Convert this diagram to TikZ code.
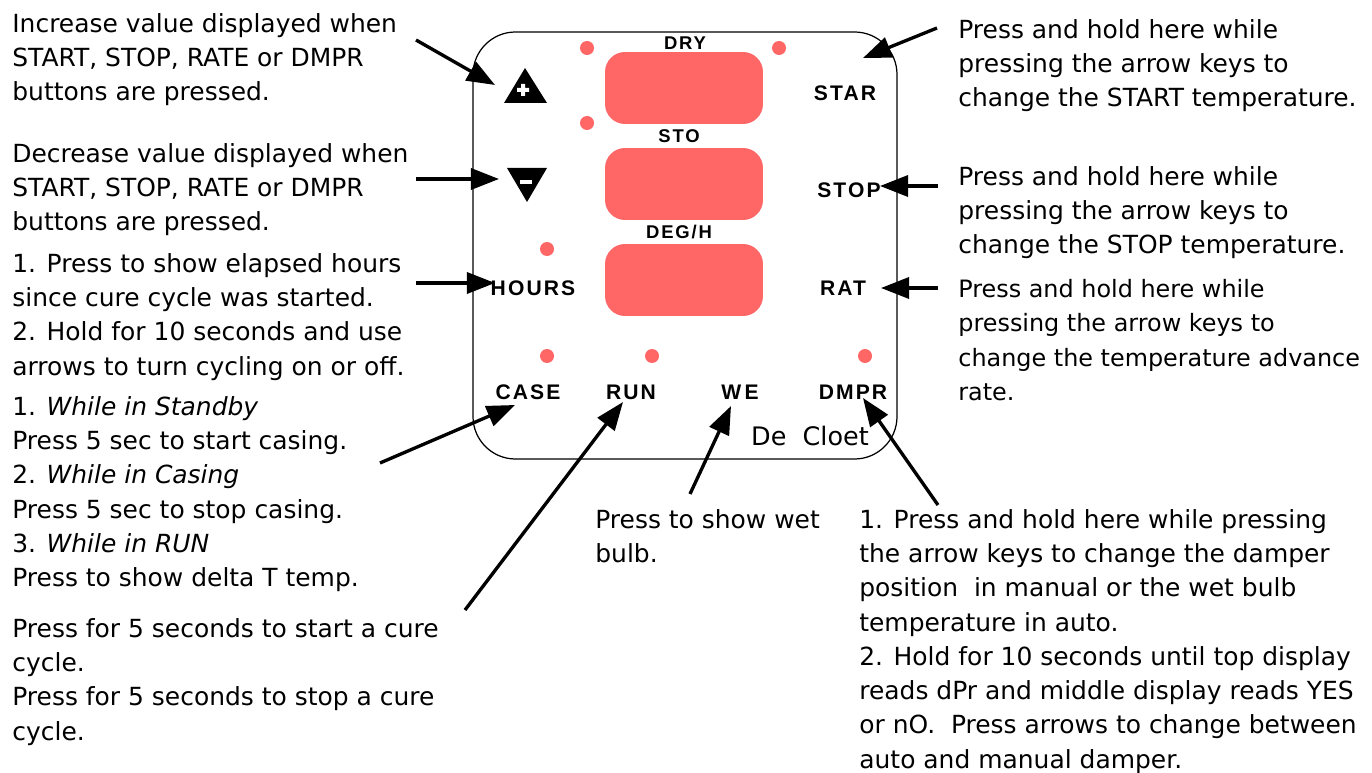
\documentclass[tikz,border=0pt]{standalone}
\usepackage{fontspec}
\setmainfont{DejaVu Sans}
\newfontfamily\keyfont[LetterSpace=10]{Liberation Sans}
\usetikzlibrary{arrows.meta}
\definecolor{ledred}{HTML}{FF6666}
\tikzset{
  note/.style={anchor=north west, inner sep=0pt, align=left, font=\fontsize{14.2}{19.5}\selectfont},
  key/.style={inner sep=0pt, font=\keyfont\bfseries\fontsize{12}{14}\selectfont},
  tag/.style={inner sep=0pt, font=\keyfont\bfseries\fontsize{10.5}{12}\selectfont},
  display/.style={fill=ledred, rounded corners=0.4cm, minimum width=3.16cm, minimum height=1.44cm, inner sep=0pt},
  lamp/.style={circle, fill=ledred, minimum size=0.28cm, inner sep=0pt},
  pointer/.style={line width=1.9pt, -{Triangle[length=16pt,width=12pt]}}
}
\begin{document}
\begin{tikzpicture}[x=0.02cm,y=-0.02cm]
  \useasboundingbox (0,0) rectangle (1372,773);
  \draw[line width=0.7pt, rounded corners=0.85cm] (473,32) rectangle (897,459);
  \node[display] (dsp1) at (684,88) {};
  \node[display] (dsp2) at (684,184) {};
  \node[display] (dsp3) at (684,280) {};
  \node[tag] (dry) at (685,43) {DRY};
  \node[tag] (sto) at (679,136) {STO};
  \node[tag] (degh) at (679,232) {DEG/H};
  \foreach \x/\y [count=\i] in {587/48,779/48,587/123,547/249,547/356,652/356,865/356} {
    \node[lamp] (lamp\i) at (\x,\y) {};
  }
  \fill (504,103) -- (547,103) -- (525,68) -- cycle;
  \fill[white] (517,88) rectangle (529,92) (521,84) rectangle (525,96);
  \fill (507,168) -- (547,168) -- (527,202) -- cycle;
  \fill[white] (520,180) rectangle (532,184);
  \node[key] (star) at (845,93) {STAR};
  \node[key] (stop) at (849,190) {STOP};
  \node[key] (rat) at (843,288) {RAT};
  \node[key] (hours) at (533,288) {HOURS};
  \node[key] (case) at (528,392) {CASE};
  \node[key] (run) at (631,392) {RUN};
  \node[key] (we) at (740,392) {W\,E};
  \node[key] (dmpr) at (853,392) {DMPR};
  \node[font=\fontsize{14.5}{16}\selectfont, inner sep=0pt] (brand) at (810,436) {De\ \ Cloet};

  \node[note] (inctext) at (12,13) {Increase value displayed when\\START, STOP, RATE or DMPR\\buttons are pressed.};
  \node[note] (dectext) at (12,143) {Decrease value displayed when\\START, STOP, RATE or DMPR\\buttons are pressed.};
  \node[note] (hrstext) at (12,253) {1. Press to show elapsed hours\\since cure cycle was started.\\2. Hold for 10 seconds and use\\arrows to turn cycling on or off.};
  \node[note] (castext) at (12,396) {1. \textit{While in Standby}\\Press 5 sec to start casing.\\2. \textit{While in Casing}\\Press 5 sec to stop casing.\\3. \textit{While in RUN}\\Press to show delta T temp.};
  \node[note] (runtext) at (12,618) {Press for 5 seconds to start a cure\\cycle.\\Press for 5 seconds to stop a cure\\cycle.};
  \node[note] (startext) at (958,19) {Press and hold here while\\pressing the arrow keys to\\change the START temperature.};
  \node[note] (stoptext) at (958,166) {Press and hold here while\\pressing the arrow keys to\\change the STOP temperature.};
  \node[note, font=\fontsize{13.6}{19.5}\selectfont] (rattext) at (958,279) {Press and hold here while\\pressing the arrow keys to\\change the temperature advance\\rate.};
  \node[note] (wetext) at (595,509) {Press to show wet\\bulb.};
  \node[note] (dmprtext) at (859,509) {1. Press and hold here while pressing\\the arrow keys to change the damper\\position\ \ in manual or the wet bulb\\temperature in auto.\\2. Hold for 10 seconds until top display\\reads dPr and middle display reads YES\\or nO.\ \ Press arrows to change between\\auto and manual damper.};

  \coordinate (incfrom) at (416,40);   \coordinate (incto) at (495,85);
  \coordinate (decfrom) at (416,179);  \coordinate (decto) at (499,179);
  \coordinate (hrsfrom) at (416,283);  \coordinate (hrsto) at (495,283);
  \coordinate (casfrom) at (380,463);  \coordinate (casto) at (515,405);
  \coordinate (runfrom) at (465,610);  \coordinate (runto) at (623,402);
  \coordinate (wefrom) at (690,494);   \coordinate (weto) at (731,406);
  \coordinate (dmpfrom) at (938,505);  \coordinate (dmpto) at (863,398);
  \coordinate (stafrom) at (937,28);   \coordinate (stato) at (863,58);
  \coordinate (stofrom) at (938,186);  \coordinate (stoto) at (880,186);
  \coordinate (ratfrom) at (938,288);  \coordinate (ratto) at (881,288);
  \foreach \a in {inc,dec,hrs,cas,run,we,dmp,sta,sto,rat} {
    \draw[pointer] (\a from) -- (\a to);
  }
\end{tikzpicture}
\end{document}
